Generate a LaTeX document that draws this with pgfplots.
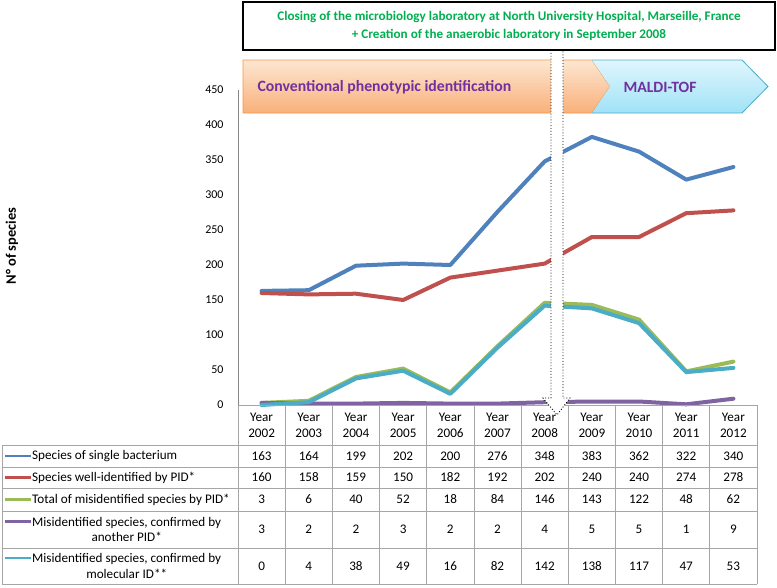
\documentclass[border=0pt]{standalone}
\usepackage{pgfplots}
\pgfplotsset{compat=1.18}
\usepackage{fontspec}
\setmainfont{Carlito}
\definecolor{sBlue}{HTML}{4F81BD}
\definecolor{sRed}{HTML}{C0504D}
\definecolor{sGreen}{HTML}{9BBB59}
\definecolor{sPurple}{HTML}{8064A2}
\definecolor{sCyan}{HTML}{4BACC6}
\definecolor{axgray}{HTML}{868686}
\definecolor{tabgray}{HTML}{A6A6A6}
\definecolor{titlegreen}{HTML}{00B050}
\definecolor{bannerpurple}{HTML}{7030A0}
\newcommand{\tf}{\fontsize{13.2}{16}\selectfont}
\newcommand{\tk}{\fontsize{12}{14}\selectfont}

\begin{document}
\begin{tikzpicture}
\path[use as bounding box] (0,0) rectangle (777bp,-588bp);

\begin{axis}[
    at={(238bp,-405bp)}, anchor=south west,
    scale only axis, width=519bp, height=315bp,
    xmin=-0.5, xmax=10.5, ymin=0, ymax=450,
    axis x line=none, axis y line=left,
    axis line style={draw=axgray, line width=0.8bp, -},
    ytick={0,50,...,450}, xtick=\empty,
    major tick length=0pt,
    yticklabel style={font=\tk, xshift=-11bp},
    /pgf/number format/assume math mode=true,
    clip=false,
    every axis plot/.append style={line width=4bp, line join=round, line cap=round, mark=none}
]
    % Species of single bacterium
    \addplot[sBlue] coordinates {(0,163) (1,164) (2,199) (3,202) (4,200) (5,276) (6,348) (7,383) (8,362) (9,322) (10,340)};
    % Species well-identified by PID*
    \addplot[sRed] coordinates {(0,160) (1,158) (2,159) (3,150) (4,182) (5,192) (6,202) (7,240) (8,240) (9,274) (10,278)};
    % Total of misidentified species by PID*
    \addplot[sGreen] coordinates {(0,3) (1,6) (2,40) (3,52) (4,18) (5,84) (6,146) (7,143) (8,122) (9,48) (10,62)};
    % confirmed by another PID*
    \addplot[sPurple] coordinates {(0,3) (1,2) (2,2) (3,3) (4,2) (5,2) (6,4) (7,5) (8,5) (9,1) (10,9)};
    % confirmed by molecular ID**
    \addplot[sCyan] coordinates {(0,0) (1,4) (2,38) (3,49) (4,16) (5,82) (6,142) (7,138) (8,117) (9,47) (10,53)};
\end{axis}

\begin{scope}[x=1bp, y=-1bp]
    % y label
    \node[rotate=90, font=\fontsize{14.5}{16}\selectfont\bfseries] at (12,246) {N° of species};

    % table grid
    \begin{scope}[draw=tabgray, line width=0.8bp]
        \draw (238,405) -- (757,405);
        \foreach \y in {445,467,488,511,548,584} \draw (2,\y) -- (757,\y);
        \draw (2,445) -- (2,584);
        \foreach \k in {0,...,11} \draw ({238+47.18*\k},405) -- ({238+47.18*\k},584);
    \end{scope}

    % header row
    \foreach \yr [count=\i from 0] in {2002,...,2012}
        \node[font=\tf, align=center, inner sep=0] at ({238+47.18*(\i+0.5)},425) {Year\\\yr};

    % legend column
    \draw[sBlue, line width=2.2bp] (5,456) -- (31,456);
    \node[font=\tf, anchor=west, inner sep=0] at (32,456) {Species of single bacterium};
    \draw[sRed, line width=2.2bp] (5,477.5) -- (31,477.5);
    \node[font=\tf, anchor=west, inner sep=0] at (32,477.5) {Species well-identified by PID*};
    \draw[sGreen, line width=2.2bp] (5,499.5) -- (31,499.5);
    \node[font=\tf, anchor=west, inner sep=0] at (32,499.5) {Total of misidentified species by PID*};
    \draw[sPurple, line width=2.2bp] (5,521.5) -- (31,521.5);
    \node[font=\tf, anchor=west, inner sep=0, align=center] at (32,529.5) {Misidentified species, confirmed by\\another PID*};
    \draw[sCyan, line width=2.2bp] (5,558) -- (31,558);
    \node[font=\tf, anchor=west, inner sep=0, align=center] at (32,566) {Misidentified species, confirmed by\\molecular ID**};

    % values
    \foreach \v [count=\i from 0] in {163,164,199,202,200,276,348,383,362,322,340}
        \node[font=\tf] at ({238+47.18*(\i+0.5)},456) {\v};
    \foreach \v [count=\i from 0] in {160,158,159,150,182,192,202,240,240,274,278}
        \node[font=\tf] at ({238+47.18*(\i+0.5)},477.5) {\v};
    \foreach \v [count=\i from 0] in {3,6,40,52,18,84,146,143,122,48,62}
        \node[font=\tf] at ({238+47.18*(\i+0.5)},499.5) {\v};
    \foreach \v [count=\i from 0] in {3,2,2,3,2,2,4,5,5,1,9}
        \node[font=\tf] at ({238+47.18*(\i+0.5)},529.5) {\v};
    \foreach \v [count=\i from 0] in {0,4,38,49,16,82,142,138,117,47,53}
        \node[font=\tf] at ({238+47.18*(\i+0.5)},566) {\v};

    % banners
    \shade[top color={rgb,255:red,253;green,230;blue,210}, bottom color={rgb,255:red,249;green,176;blue,122}]
        (243,60) -- (592,60) -- (610,86.5) -- (592,113) -- (243,113) -- cycle;
    \draw[color={rgb,255:red,247;green,150;blue,70}, line width=0.8bp]
        (243,60) -- (592,60) -- (610,86.5) -- (592,113) -- (243,113) -- cycle;
    \shade[top color={rgb,255:red,224;green,246;blue,253}, bottom color={rgb,255:red,160;green,226;blue,247}]
        (592,60) -- (742,60) -- (768,86.5) -- (742,113) -- (592,113) -- (610,86.5) -- cycle;
    \draw[sCyan, line width=0.8bp]
        (592,60) -- (742,60) -- (768,86.5) -- (742,113) -- (592,113);
    \node[anchor=west, font=\fontsize{15.8}{18}\selectfont\bfseries, text=bannerpurple] at (254,87) {Conventional phenotypic identification};
    \node[anchor=west, font=\fontsize{15.8}{18}\selectfont\bfseries, text=bannerpurple] at (620,87) {MALDI-TOF};

    % dotted block arrow
    \fill[white] (551,50) -- (551,398) -- (543,398) -- (557,415) -- (570,398) -- (563,398) -- (563,50) -- cycle;
    \draw[black, dotted, line width=0.9bp] (551,50) -- (551,398) -- (543,398) -- (557,415) -- (570,398) -- (563,398) -- (563,50);

    % top box
    \draw[black, line width=1.3bp, fill=white] (243,2) rectangle (775,50);
    \node[align=center, font=\fontsize{13.2}{18}\selectfont\bfseries, text=titlegreen] at (509,25.5)
        {Closing of the microbiology laboratory at North University Hospital, Marseille, France\\+ Creation of the anaerobic laboratory in September 2008};
\end{scope}
\end{tikzpicture}
\end{document}
